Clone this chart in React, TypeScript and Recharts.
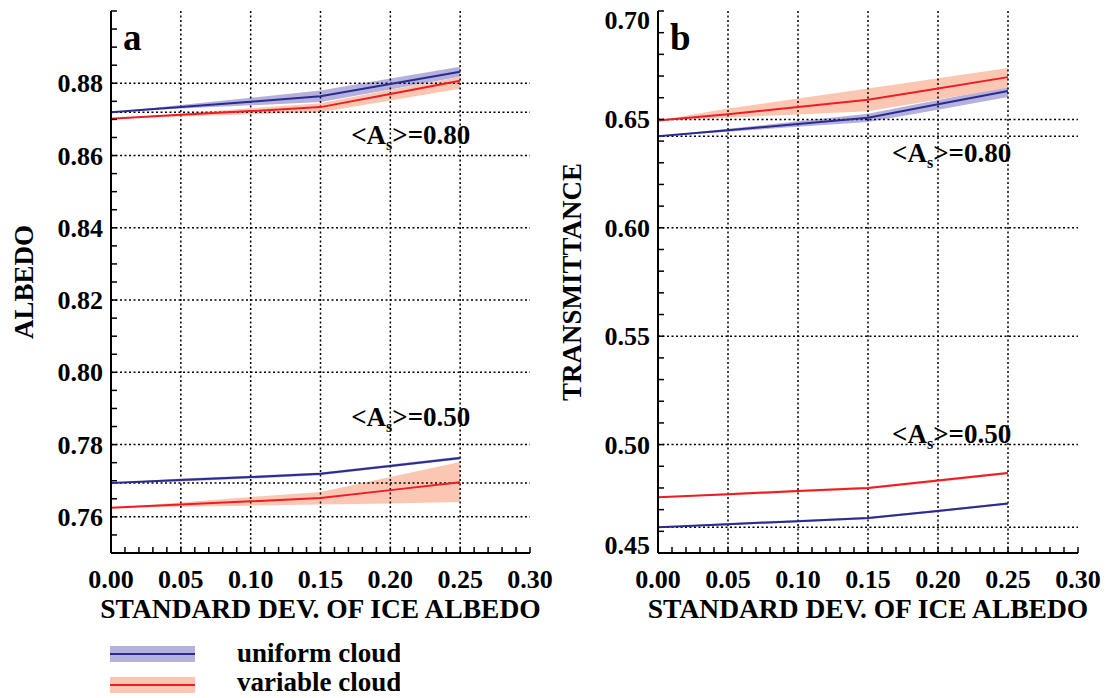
import React from 'react';
import { ComposedChart, Line, Area, XAxis, YAxis, ReferenceLine, ReferenceDot } from 'recharts';

// ---------- data ----------
const sigma = [0, 0.05, 0.1, 0.15, 0.2, 0.25];

// Panel a: ALBEDO
const albU80 = [0.872, 0.8734, 0.8749, 0.8764, 0.8798, 0.8832];
const albU80Lo = [0.872, 0.873, 0.8739, 0.8748, 0.8783, 0.8818];
const albU80Hi = [0.872, 0.874, 0.876, 0.878, 0.8813, 0.8846];
const albV80 = [0.8702, 0.8713, 0.8723, 0.8734, 0.877, 0.8807];
const albV80Lo = [0.8702, 0.8708, 0.8714, 0.872, 0.8752, 0.8785];
const albV80Hi = [0.8702, 0.8716, 0.8731, 0.8745, 0.8782, 0.8818];
const albU50 = [0.7694, 0.7702, 0.771, 0.7719, 0.7741, 0.7763];
const albU50Lo = [0.7694, 0.7698, 0.7706, 0.7715, 0.7737, 0.7759];
const albU50Hi = [0.7694, 0.7706, 0.7714, 0.7723, 0.7745, 0.7767];
const albV50 = [0.7625, 0.7634, 0.7643, 0.7652, 0.7674, 0.7696];
const albV50Lo = [0.7625, 0.7628, 0.7631, 0.7634, 0.7637, 0.7641];
const albV50Hi = [0.7625, 0.764, 0.7655, 0.7669, 0.771, 0.7752];

// Panel b: TRANSMITTANCE
const trU80 = [0.6422, 0.645, 0.6479, 0.6508, 0.657, 0.6631];
const trU80Lo = [0.6422, 0.6443, 0.6466, 0.6488, 0.6545, 0.6603];
const trU80Hi = [0.6422, 0.6457, 0.6491, 0.6526, 0.6589, 0.6652];
const trV80 = [0.6495, 0.6524, 0.6557, 0.6591, 0.6643, 0.6695];
const trV80Lo = [0.6495, 0.6508, 0.6523, 0.6538, 0.6592, 0.6646];
const trV80Hi = [0.6495, 0.655, 0.6596, 0.6642, 0.669, 0.6737];
const trU50 = [0.4619, 0.4633, 0.4647, 0.4661, 0.4694, 0.4728];
const trU50Lo = [0.4619, 0.4628, 0.4642, 0.4656, 0.4689, 0.4723];
const trU50Hi = [0.4619, 0.4638, 0.4652, 0.4666, 0.4699, 0.4733];
const trV50 = [0.4757, 0.4771, 0.4786, 0.48, 0.4834, 0.4869];
const trV50Lo = [0.4757, 0.4765, 0.478, 0.4794, 0.4828, 0.4863];
const trV50Hi = [0.4757, 0.4777, 0.4792, 0.4806, 0.484, 0.4875];

// ---------- ticks ----------
const xMinorTicks = [0, 0.01, 0.02, 0.03, 0.04, 0.05, 0.06, 0.07, 0.08, 0.09, 0.1, 0.11, 0.12, 0.13, 0.14, 0.15,
  0.16, 0.17, 0.18, 0.19, 0.2, 0.21, 0.22, 0.23, 0.24, 0.25, 0.26, 0.27, 0.28, 0.29, 0.3];
const xLabels = [0, 0.05, 0.1, 0.15, 0.2, 0.25, 0.3];
const xGrid = [0.05, 0.1, 0.15, 0.2, 0.25];

const yTicksA = [0.75, 0.755, 0.76, 0.765, 0.77, 0.775, 0.78, 0.785, 0.79, 0.795, 0.8, 0.805, 0.81, 0.815, 0.82,
  0.825, 0.83, 0.835, 0.84, 0.845, 0.85, 0.855, 0.86, 0.865, 0.87, 0.875, 0.88, 0.885, 0.89, 0.895, 0.9];
const yLabelsA = [0.76, 0.78, 0.8, 0.82, 0.84, 0.86, 0.88];
const yDomainA = [0.75, 0.9];

const yTicksB = [0.45, 0.46, 0.47, 0.48, 0.49, 0.5, 0.51, 0.52, 0.53, 0.54, 0.55, 0.56, 0.57, 0.58, 0.59, 0.6,
  0.61, 0.62, 0.63, 0.64, 0.65, 0.66, 0.67, 0.68, 0.69, 0.7];
const yLabelsB = [0.45, 0.5, 0.55, 0.6, 0.65, 0.7];
const yDomainB = [0.45, 0.7];

const annot80 = '0.80';
const annot50 = '0.50';

// ---------- colors / fonts ----------
const BLUE = '#2b2b8f';
const BLUE_BAND = '#b4b1dc';
const RED = '#ee1c25';
const RED_BAND = '#fcc7b2';
const FONT = "'Liberation Serif', 'Times New Roman', Times, 'DejaVu Serif', serif";
const TS = { fontFamily: FONT, fontWeight: 700 };

const build = (u80, u80l, u80h, v80, v80l, v80h, u50, u50l, u50h, v50, v50l, v50h) =>
  sigma.map((x, i) => ({
    x,
    u80: u80[i], u80r: [u80l[i], u80h[i]],
    v80: v80[i], v80r: [v80l[i], v80h[i]],
    u50: u50[i], u50r: [u50l[i], u50h[i]],
    v50: v50[i], v50r: [v50l[i], v50h[i]],
  }));

const dataA = build(albU80, albU80Lo, albU80Hi, albV80, albV80Lo, albV80Hi, albU50, albU50Lo, albU50Hi, albV50, albV50Lo, albV50Hi);
const dataB = build(trU80, trU80Lo, trU80Hi, trV80, trV80Lo, trV80Hi, trU50, trU50Lo, trU50Hi, trV50, trV50Lo, trV50Hi);

const has = (arr, v) => arr.some((m) => Math.abs(m - v) < 1e-9);
const TICK = 6;

const BottomTick = (props) => {
  const { x, y, payload } = props;
  const v = payload.value;
  return (
    <g>
      <line x1={x} y1={y} x2={x} y2={y - TICK} stroke="#000" strokeWidth={1.5} />
      {has(xLabels, v) && (
        <text x={x} y={y + 35} textAnchor="middle" style={TS} fontSize={26} fill="#000">
          {v.toFixed(2)}
        </text>
      )}
    </g>
  );
};
const TopTick = (props) => {
  const { x, y } = props;
  return <line x1={x} y1={y} x2={x} y2={y + TICK} stroke="#000" strokeWidth={1.5} />;
};
const makeLeftTick = (labels, domain) => (props) => {
  const { x, y, payload } = props;
  const v = payload.value;
  let dy = 9;
  if (Math.abs(v - domain[1]) < 1e-9) dy += 9;
  if (Math.abs(v - domain[0]) < 1e-9) dy -= 8;
  return (
    <g>
      <line x1={x} y1={y} x2={x + TICK} y2={y} stroke="#000" strokeWidth={1.5} />
      {has(labels, v) && (
        <text x={x - 8} y={y + dy} textAnchor="end" style={TS} fontSize={26} fill="#000">
          {v.toFixed(2)}
        </text>
      )}
    </g>
  );
};
const RightTick = (props) => {
  const { x, y } = props;
  return <line x1={x} y1={y} x2={x - TICK} y2={y} stroke="#000" strokeWidth={1.5} />;
};

const annotContent = (value) => (props) => {
  const vb = props.viewBox || {};
  const x = vb.x ?? 0;
  const y = vb.y ?? 0;
  return (
    <text x={x} y={y} style={TS} fontSize={27} fill="#000">
      <tspan>{'<A'}</tspan>
      <tspan fontSize={16} dy={6}>s</tspan>
      <tspan dy={-6}>{'>=' + value}</tspan>
    </text>
  );
};

const letterContent = (letter) => (props) => {
  const vb = props.viewBox || {};
  return (
    <text x={(vb.x ?? 0) + 12} y={(vb.y ?? 0) + 39} style={TS} fontSize={37} fill="#000">
      {letter}
    </text>
  );
};

const Panel = ({ data, yTicks, yLabels, yDomain, yTitle, yTitleX, letter, marginLeft, annotX, annot80Y, annot50Y }) => {
  const axisLine = { stroke: '#000', strokeWidth: 2 };
  const grid = { stroke: '#000', strokeWidth: 1.5, strokeDasharray: '2 2.5' };
  const hGrid = yLabels.filter((v) => v > yDomain[0] + 1e-9 && v < yDomain[1] - 1e-9);
  return (
    <ComposedChart
      width={560}
      height={640}
      data={data}
      margin={{ top: 11, right: 30, bottom: 7, left: marginLeft }}
    >
      <XAxis
        dataKey="x"
        type="number"
        domain={[0, 0.3]}
        ticks={xMinorTicks}
        interval={0}
        tickLine={false}
        tickSize={0}
        tickMargin={0}
        axisLine={axisLine}
        tick={BottomTick}
        height={80}
        allowDataOverflow
        label={{
          content: (p) => {
            const vb = p.viewBox || {};
            return (
              <text x={(vb.x ?? 0) + (vb.width ?? 0) / 2} y={(vb.y ?? 0) + 65} textAnchor="middle"
                style={TS} fontSize={27.5} fill="#000">
                STANDARD DEV. OF ICE ALBEDO
              </text>
            );
          },
        }}
      />
      <XAxis
        xAxisId="top"
        orientation="top"
        dataKey="x"
        type="number"
        domain={[0, 0.3]}
        ticks={xMinorTicks}
        interval={0}
        tickLine={false}
        tickSize={0}
        tickMargin={0}
        axisLine={axisLine}
        tick={TopTick}
        height={0}
        allowDataOverflow
      />
      <YAxis
        type="number"
        domain={yDomain}
        ticks={yTicks}
        interval={0}
        tickLine={false}
        tickSize={0}
        tickMargin={0}
        axisLine={axisLine}
        tick={makeLeftTick(yLabels, yDomain)}
        width={60}
        allowDataOverflow
        label={{
          content: (p) => {
            const vb = p.viewBox || {};
            const cy = (vb.y ?? 0) + (vb.height ?? 0) / 2;
            return (
              <text x={yTitleX} y={cy} textAnchor="middle" dominantBaseline="central"
                transform={`rotate(-90 ${yTitleX} ${cy})`}
                style={TS} fontSize={27} fill="#000">
                {yTitle}
              </text>
            );
          },
        }}
      />
      <YAxis
        yAxisId="right"
        orientation="right"
        type="number"
        domain={yDomain}
        ticks={yTicks}
        interval={0}
        tickLine={false}
        tickSize={0}
        tickMargin={0}
        axisLine={axisLine}
        tick={RightTick}
        width={0}
        allowDataOverflow
      />

      {xGrid.map((g) => (
        <ReferenceLine key={'vx' + g} x={g} {...grid} />
      ))}
      {hGrid.map((g) => (
        <ReferenceLine key={'hy' + g} y={g} {...grid} />
      ))}
      <ReferenceLine y={data[0].u80} {...grid} />
      <ReferenceLine y={data[0].u50} {...grid} />

      <Area dataKey="u80r" type="linear" stroke="none" fill={BLUE_BAND} fillOpacity={1} isAnimationActive={false} />
      <Area dataKey="v80r" type="linear" stroke="none" fill={RED_BAND} fillOpacity={1} isAnimationActive={false} />
      <Area dataKey="u50r" type="linear" stroke="none" fill={BLUE_BAND} fillOpacity={1} isAnimationActive={false} />
      <Area dataKey="v50r" type="linear" stroke="none" fill={RED_BAND} fillOpacity={1} isAnimationActive={false} />

      <Line dataKey="u80" type="linear" stroke={BLUE} strokeWidth={2} dot={false} isAnimationActive={false} />
      <Line dataKey="v80" type="linear" stroke={RED} strokeWidth={2} dot={false} isAnimationActive={false} />
      <Line dataKey="u50" type="linear" stroke={BLUE} strokeWidth={2} dot={false} isAnimationActive={false} />
      <Line dataKey="v50" type="linear" stroke={RED} strokeWidth={2} dot={false} isAnimationActive={false} />

      <ReferenceDot x={annotX} y={annot80Y} r={0} stroke="none" fill="none" label={{ content: annotContent(annot80) }} />
      <ReferenceDot x={annotX} y={annot50Y} r={0} stroke="none" fill="none" label={{ content: annotContent(annot50) }} />
      <ReferenceDot x={0} y={yDomain[1]} r={0} stroke="none" fill="none" label={{ content: letterContent(letter) }} />
    </ComposedChart>
  );
};

const LegendBox = () => (
  <svg width={400} height={70} style={{ position: 'absolute', left: 0, top: 628 }}>
    <rect x={110} y={18} width={85} height={16} fill={BLUE_BAND} />
    <line x1={110} x2={195} y1={26} y2={26} stroke={BLUE} strokeWidth={2} />
    <text x={237} y={34} style={TS} fontSize={27} fill="#000">uniform cloud</text>
    <rect x={110} y={49} width={85} height={16} fill={RED_BAND} />
    <line x1={110} x2={195} y1={57} y2={57} stroke={RED} strokeWidth={2} />
    <text x={237} y={63} style={TS} fontSize={27} fill="#000">variable cloud</text>
  </svg>
);

export default function App() {
  return (
    <div style={{ position: 'absolute', left: 0, top: 0, width: 1108, height: 698, overflow: 'hidden', background: '#fff', fontFamily: FONT }}>
      <div style={{ position: 'absolute', left: 0, top: 0 }}>
        <Panel data={dataA} yTicks={yTicksA} yLabels={yLabelsA} yDomain={yDomainA} yTitle="ALBEDO" yTitleX={24}
          letter="a" marginLeft={51} annotX={0.172} annot80Y={0.8631} annot50Y={0.7852} />
      </div>
      <div style={{ position: 'absolute', left: 548, top: 0 }}>
        <Panel data={dataB} yTicks={yTicksB} yLabels={yLabelsB} yDomain={yDomainB} yTitle="TRANSMITTANCE" yTitleX={24}
          letter="b" marginLeft={50} annotX={0.1672} annot80Y={0.6302} annot50Y={0.5006} />
      </div>
      <LegendBox />
    </div>
  );
}
